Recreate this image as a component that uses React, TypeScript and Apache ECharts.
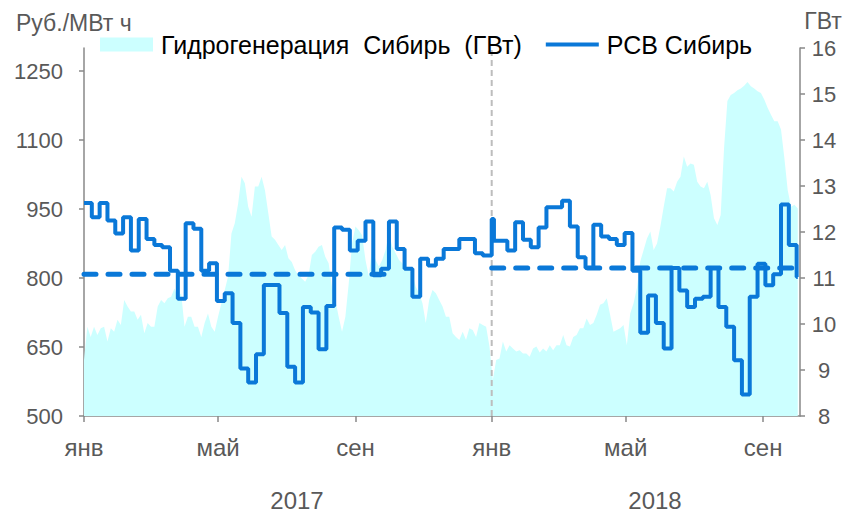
import React, { useEffect, useRef } from 'react';
import * as echarts from 'echarts';

const DAY = 86400000;
const start2017 = Date.UTC(2017, 0, 1);
const start2018 = Date.UTC(2018, 0, 1);
const axisStart = Date.UTC(2017, 0, 1);
const axisEnd = Date.UTC(2018, 9, 4);

const monthNames = ['янв', 'фев', 'мар', 'апр', 'май', 'июн', 'июл', 'авг', 'сен', 'окт', 'ноя', 'дек'];
const xTickDates = [
  Date.UTC(2017, 0, 1), Date.UTC(2017, 4, 1), Date.UTC(2017, 8, 1),
  Date.UTC(2018, 0, 1), Date.UTC(2018, 4, 1), Date.UTC(2018, 8, 1),
];
const yearLabels = ['2017', '2018'];
const priceTicks = [500, 650, 800, 950, 1100, 1250];

const hydroName = 'Гидрогенерация  Сибирь  (ГВт)';
const priceName = 'РСВ Сибирь';

// weekly RSV Siberia price, weeks from 2017-01-01
const price2017 = [
  963, 932, 963, 925, 897, 932, 860, 928, 885, 872,
  867, 816, 755, 919, 907, 816, 832, 750, 767, 702,
  603, 573, 634, 785, 785, 724, 607, 573, 737, 725,
  645, 739, 910, 905, 860, 881, 923, 806, 820, 923,
  863, 820, 759, 842, 827, 842, 863, 863, 885, 885,
  854, 849,
];
const priceNewYearSpike = 928; // 1-2 Jan 2018
// weekly price, weeks from 2018-01-01
const price2018 = [
  881, 881, 860, 921, 883, 867, 910, 954, 954, 968,
  912, 845, 822, 916, 890, 885, 872, 898, 816, 681,
  762, 702, 647, 822, 773, 737, 755, 759, 822, 737,
  694, 621, 547, 759, 831, 784, 808, 960, 872, 802,
];

const avg2017 = 808;
const avg2017End = Date.UTC(2017, 8, 30);
const avg2018 = 822;
const avg2018End = Date.UTC(2018, 9, 1);

// hydro generation Siberia, GW, every 3 days from 2017-01-01
const hydroStepDays = 3;
const hydro = [
  9.22, 9.94, 9.72, 9.94, 9.76, 9.91, 9.94, 9.62, 9.91, 9.83,
  10.09, 9.98, 10.52, 10.38, 10.27, 10.27, 10.09, 10.20, 9.80, 10.02,
  9.94, 9.94, 10.38, 10.52, 10.45, 10.56, 10.59, 10.77, 10.59, 10.67,
  9.94, 10.16, 10.16, 9.94, 9.94, 9.72, 10.02, 10.23, 9.94, 9.83,
  10.16, 10.45, 10.74, 11.03, 11.97, 12.19, 12.62, 13.20, 13.06, 12.55,
  12.33, 12.99, 12.99, 13.20,
  12.91, 12.41, 11.90, 11.83, 11.72, 11.61, 11.72, 11.43, 11.35, 11.17,
  11.06, 10.99, 10.92, 11.06, 11.50, 11.57, 11.68, 11.72, 11.46, 11.32,
  10.81, 10.52, 10.16, 9.83, 10.16, 10.88, 11.75, 12.12, 12.04, 11.93,
  11.39, 11.03, 11.68, 11.39, 11.25, 11.39, 11.61, 11.97, 11.68, 11.54,
  11.39, 11.32, 11.17, 11.17, 11.10, 10.81, 10.67, 10.45, 10.02, 10.52,
  10.74, 10.67, 10.52,
  10.38, 10.16, 10.16, 9.80, 9.72, 9.65, 9.83, 9.65, 9.91, 9.87,
  9.72, 10.02, 9.98, 9.94, 9.51, 8.78, 9.22, 9.25, 9.62, 9.40,
  9.54, 9.47, 9.40, 9.43, 9.36, 9.36, 9.29, 9.47, 9.51, 9.38,
  9.47, 9.40, 9.54, 9.43, 9.54, 9.54, 9.76, 9.54, 9.51, 9.72,
  9.76, 9.91, 9.91, 10.12, 9.98, 10.02, 10.20, 10.42, 10.45, 10.56,
  10.20, 9.83, 9.87,
  9.91, 9.98, 9.54, 10.23, 10.45, 10.78, 11.36, 11.61, 11.86, 12.01,
  11.61, 11.75, 12.12, 12.55, 12.95, 12.95, 12.88, 13.09, 13.20, 13.64,
  13.42, 13.49, 13.46, 13.09, 12.99, 12.95, 13.09, 12.80, 12.30, 12.15,
  12.37, 13.82, 14.85, 14.98, 15.02, 15.08, 15.12, 15.18, 15.26, 15.17,
  15.12, 15.06, 15.02, 14.88, 14.70, 14.55, 14.41, 14.41, 14.23, 13.61,
  12.91, 12.55, 12.59, 12.51,
];

const FONT = '"Liberation Sans", Arial, sans-serif';
const GRAY_TEXT = '#595959';
const AXIS_GRAY = '#898989';
const BLUE = '#0A78D8';
const CYAN = '#CCFFFF';

export default function App() {
  const ref = useRef<HTMLDivElement>(null);

  useEffect(() => {
    const chart = echarts.init(ref.current as HTMLDivElement, null, { renderer: 'svg' });

    const hydroData = hydro.map((v, i) => [start2017 + i * hydroStepDays * DAY, v]);
    const priceData: number[][] = [];
    price2017.forEach((v, i) => priceData.push([start2017 + i * 7 * DAY, v]));
    priceData.push([start2018, priceNewYearSpike]);
    price2018.forEach((v, k) => priceData.push([k === 0 ? start2018 + 2 * DAY : start2018 + k * 7 * DAY, v]));
    const lastDate = start2018 + (price2018.length - 1) * 7 * DAY;
    priceData.push([lastDate + DAY, price2018[price2018.length - 1]]);

    const option: any = {
      animation: false,
      backgroundColor: '#ffffff',
      textStyle: { fontFamily: FONT },
      grid: { left: 84, right: 52, top: 48, bottom: 98, containLabel: false },
      legend: {
        left: 95,
        top: 27,
        itemWidth: 53,
        itemHeight: 14,
        itemGap: 22,
        selectedMode: false,
        textStyle: { fontSize: 25, color: '#000', fontFamily: FONT, padding: [0, 0, 0, 3] },
        data: [
          { name: hydroName, icon: 'rect', itemStyle: { color: CYAN } },
          {
            name: priceName,
            itemStyle: { color: 'transparent', opacity: 0, borderWidth: 0 },
            lineStyle: { color: BLUE, width: 4, opacity: 1 },
          },
        ],
      },
      xAxis: {
        type: 'value',
        min: axisStart,
        max: axisEnd,
        splitLine: { show: false },
        axisLine: { show: true, lineStyle: { color: AXIS_GRAY, width: 1.5 } },
        axisTick: { show: true, length: 6, lineStyle: { color: AXIS_GRAY, width: 1.5 }, customValues: xTickDates },
        axisLabel: {
          customValues: xTickDates,
          margin: 19,
          fontSize: 24,
          color: GRAY_TEXT,
          fontFamily: FONT,
          formatter: (v: number) => monthNames[new Date(v).getUTCMonth()],
        },
      },
      yAxis: [
        {
          type: 'value',
          min: 500,
          max: 1300,
          interval: 100,
          position: 'left',
          splitLine: { show: false },
          axisLine: { show: true, lineStyle: { color: AXIS_GRAY, width: 1.5 } },
          axisTick: { show: true, length: 5, lineStyle: { color: AXIS_GRAY, width: 1.5 }, customValues: priceTicks },
          axisLabel: {
            customValues: priceTicks,
            margin: 21,
            fontSize: 22,
            color: GRAY_TEXT,
            fontFamily: FONT,
            formatter: (v: number) => String(v),
          },
        },
        {
          type: 'value',
          min: 8,
          max: 16,
          interval: 1,
          position: 'right',
          splitLine: { show: false },
          axisLine: { show: true, lineStyle: { color: AXIS_GRAY, width: 1.5 } },
          axisTick: { show: true, length: 5, lineStyle: { color: AXIS_GRAY, width: 1.5 } },
          axisLabel: {
            margin: 24,
            align: 'center',
            fontSize: 22,
            color: GRAY_TEXT,
            fontFamily: FONT,
            formatter: (v: number) => String(v),
          },
        },
      ],
      series: [
        {
          name: hydroName,
          type: 'line',
          yAxisIndex: 1,
          data: hydroData,
          symbol: 'none',
          color: CYAN,
          lineStyle: { width: 0, color: CYAN },
          areaStyle: { color: CYAN, opacity: 1, origin: 'start' },
          z: 1,
          silent: true,
        },
        {
          name: 'divider',
          type: 'line',
          yAxisIndex: 0,
          data: [[start2018, 500], [start2018, 1300]],
          symbol: 'none',
          lineStyle: { color: '#BDBDBD', width: 2, type: [6, 4] },
          z: 2,
          silent: true,
        },
        {
          name: 'avg2017',
          type: 'line',
          yAxisIndex: 0,
          data: [[start2017, avg2017], [avg2017End, avg2017]],
          symbol: 'none',
          lineStyle: { color: BLUE, width: 5, type: [12, 12], cap: 'round' },
          z: 3,
          silent: true,
        },
        {
          name: 'avg2018',
          type: 'line',
          yAxisIndex: 0,
          data: [[start2018, avg2018], [avg2018End, avg2018]],
          symbol: 'none',
          lineStyle: { color: BLUE, width: 5, type: [12, 12], cap: 'round' },
          z: 3,
          silent: true,
        },
        {
          name: priceName,
          type: 'line',
          yAxisIndex: 0,
          step: 'end',
          data: priceData,
          symbol: 'none',
          color: BLUE,
          lineStyle: { color: BLUE, width: 4 },
          z: 4,
          silent: true,
        },
      ],
      graphic: [
        {
          type: 'text',
          x: 16,
          y: 23,
          style: { text: 'Руб./МВт ч', fill: GRAY_TEXT, font: `23px ${FONT}`, align: 'left', verticalAlign: 'middle' },
        },
        {
          type: 'text',
          x: 823,
          y: 21,
          style: { text: 'ГВт', fill: GRAY_TEXT, font: `23px ${FONT}`, align: 'center', verticalAlign: 'middle' },
        },
        {
          type: 'text',
          x: 297,
          y: 500,
          style: { text: yearLabels[0], fill: GRAY_TEXT, font: `24px ${FONT}`, align: 'center', verticalAlign: 'middle' },
        },
        {
          type: 'text',
          x: 655,
          y: 500,
          style: { text: yearLabels[1], fill: GRAY_TEXT, font: `24px ${FONT}`, align: 'center', verticalAlign: 'middle' },
        },
      ],
    };

    chart.setOption(option);
    return () => chart.dispose();
  }, []);

  return (
    <div
      ref={ref}
      style={{ position: 'fixed', left: 0, top: 0, width: 852, height: 514, background: '#fff' }}
    />
  );
}
